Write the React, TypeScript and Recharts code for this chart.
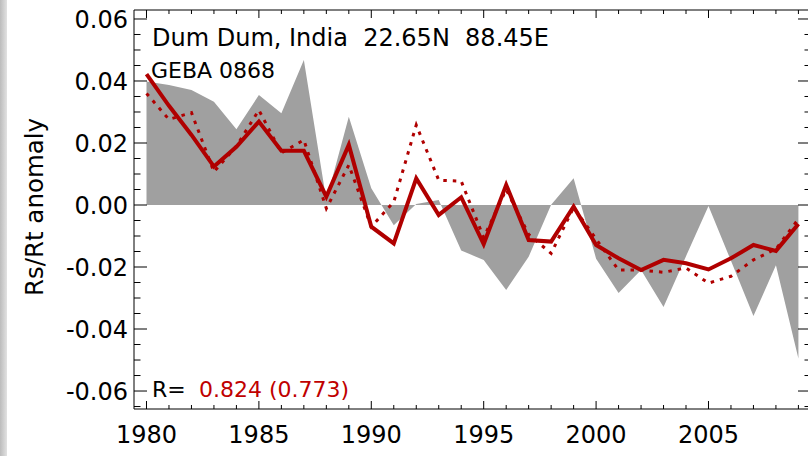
import { ComposedChart, Area, Line, XAxis, YAxis } from "recharts";

const years = [
  1980, 1981, 1982, 1983, 1984, 1985, 1986, 1987, 1988, 1989, 1990, 1991,
  1992, 1993, 1994, 1995, 1996, 1997, 1998, 1999, 2000, 2001, 2002, 2003,
  2004, 2005, 2006, 2007, 2008, 2009,
];

// grey shading (observed anomaly)
const shaded = [
  0.0398, 0.0387, 0.0371, 0.0333, 0.0244, 0.0355, 0.0296, 0.0468, 0.0015,
  0.0285, 0.0054, -0.0065, 0.0003, 0.0016, -0.0147, -0.0177, -0.0274,
  -0.0167, 0.0001, 0.0086, -0.0173, -0.0284, -0.021, -0.0329, -0.0165,
  -0.0003, -0.018, -0.0358, -0.0194, -0.0495,
];

const solid = [
  0.0422, 0.032, 0.0226, 0.0124, 0.0188, 0.0269, 0.0175, 0.0175, 0.0027,
  0.0194, -0.007, -0.0124, 0.0086, -0.0032, 0.0025, -0.0126, 0.0065,
  -0.0113, -0.0118, -0.0005, -0.0129, -0.0172, -0.021, -0.0177, -0.0188,
  -0.0208, -0.0172, -0.0129, -0.0148, -0.0061,
];

const dotted = [
  0.036, 0.0276, 0.0298, 0.0107, 0.019, 0.0306, 0.0168, 0.021, -0.0011,
  0.0129, -0.007, 0.001, 0.0258, 0.008, 0.0077, -0.0105, 0.005, -0.0095,
  -0.0156, -0.0008, -0.011, -0.021, -0.021, -0.0217, -0.0203, -0.0252,
  -0.023, -0.0177, -0.0142, -0.0045,
];

const xLabelYears = [1980, 1985, 1990, 1995, 2000, 2005];
const yTickMilli = [
  -65, -60, -55, -50, -45, -40, -35, -30, -25, -20, -15, -10, -5, 0, 5, 10,
  15, 20, 25, 30, 35, 40, 45, 50, 55, 60,
];
const yTicks = yTickMilli.map((m) => m / 1000);

const title = "Dum Dum, India  22.65N  88.45E";
const subtitle = "GEBA 0868";
const corrLabel = "R=";
const corrValue = "0.824 (0.773)";

const data = years.map((year, i) => ({
  year,
  shaded: shaded[i],
  solid: solid[i],
  dotted: dotted[i],
}));

const X_DOMAIN: [number, number] = [1979.444, 2009.56];
const Y_DOMAIN: [number, number] = [-0.0658, 0.0629];
const FONT = "DejaVu Sans";
const RED = "#b00000";

const isMajorY = (v: number) => Math.round(v * 1000) % 20 === 0;
const isMajorX = (v: number) => v % 5 === 0;

function BottomTick(props: any) {
  const { x, y, payload } = props;
  const major = isMajorX(payload.value);
  return (
    <g>
      <line x1={x} x2={x} y1={y} y2={y - (major ? 8 : 4)} stroke="#000" />
      {xLabelYears.includes(payload.value) && (
        <text x={x} y={y + 34} textAnchor="middle" fontSize={24} fontFamily={FONT} fill="#000">
          {payload.value}
        </text>
      )}
    </g>
  );
}

function TopTick(props: any) {
  const { x, y, payload } = props;
  const major = isMajorX(payload.value);
  return <line x1={x} x2={x} y1={y} y2={y + (major ? 8 : 4)} stroke="#000" />;
}

function LeftTick(props: any) {
  const { x, y, payload } = props;
  const major = isMajorY(payload.value);
  return (
    <g>
      <line x1={x} x2={x + (major ? 13 : 6.5)} y1={y} y2={y} stroke="#000" />
      {major && (
        <text x={x - 6} y={y + 8.7} textAnchor="end" fontSize={24} fontFamily={FONT} fill="#000">
          {(Math.round(payload.value * 100) / 100).toFixed(2).replace("-0.00", "0.00")}
        </text>
      )}
    </g>
  );
}

function RightTick(props: any) {
  const { x, y, payload } = props;
  const major = isMajorY(payload.value);
  return <line x1={x} x2={x - (major ? 13 : 6.5)} y1={y} y2={y} stroke="#000" />;
}

export default function App() {
  return (
    <div
      style={{
        position: "fixed",
        left: 0,
        top: 0,
        width: 808,
        height: 456,
        overflow: "hidden",
        background: "#fff",
      }}
    >
      <div
        style={{
          position: "absolute",
          left: 0,
          top: 0,
          width: 7,
          height: 456,
          background: "linear-gradient(to right, #bcbcbc, #e2e2e2)",
        }}
      />
      <div style={{ position: "absolute", left: 0, top: 0 }}>
        <ComposedChart
          width={813}
          height={456}
          data={data}
          margin={{ top: 9, right: 1, bottom: 0, left: 0 }}
        >
          <XAxis
            xAxisId="b"
            dataKey="year"
            type="number"
            orientation="bottom"
            domain={X_DOMAIN}
            allowDataOverflow
            ticks={years}
            interval={0}
            height={47}
            tickSize={0}
            tickMargin={0}
            tickLine={false}
            axisLine={{ stroke: "#000" }}
            tick={BottomTick}
          />
          <XAxis
            xAxisId="t"
            dataKey="year"
            type="number"
            orientation="top"
            domain={X_DOMAIN}
            allowDataOverflow
            ticks={years}
            interval={0}
            height={1}
            tickSize={0}
            tickMargin={0}
            tickLine={false}
            axisLine={{ stroke: "#000" }}
            tick={TopTick}
          />
          <YAxis
            yAxisId="l"
            type="number"
            orientation="left"
            domain={Y_DOMAIN}
            allowDataOverflow
            ticks={yTicks}
            interval={0}
            width={134}
            tickSize={0}
            tickMargin={0}
            tickLine={false}
            axisLine={{ stroke: "#000" }}
            tick={LeftTick}
          />
          <YAxis
            yAxisId="r"
            type="number"
            orientation="right"
            domain={Y_DOMAIN}
            allowDataOverflow
            ticks={yTicks}
            interval={0}
            width={1}
            tickSize={0}
            tickMargin={0}
            tickLine={false}
            axisLine={{ stroke: "#000" }}
            tick={RightTick}
          />
          <Area
            xAxisId="b"
            yAxisId="l"
            type="linear"
            dataKey="shaded"
            baseValue={0}
            fill="#a0a0a0"
            fillOpacity={1}
            stroke="none"
            isAnimationActive={false}
          />
          <Line
            xAxisId="b"
            yAxisId="l"
            type="linear"
            dataKey="dotted"
            stroke={RED}
            strokeWidth={3}
            strokeDasharray="3.5 6"
            dot={false}
            isAnimationActive={false}
          />
          <Line
            xAxisId="b"
            yAxisId="l"
            type="linear"
            dataKey="solid"
            stroke={RED}
            strokeWidth={4}
            strokeLinejoin="miter"
            dot={false}
            isAnimationActive={false}
          />
          {/* invisible copy so the mirrored top/right axes have a series */}
          <Line
            xAxisId="t"
            yAxisId="r"
            type="linear"
            dataKey="solid"
            stroke="none"
            dot={false}
            activeDot={false}
            isAnimationActive={false}
          />
        </ComposedChart>
      </div>
      <svg
        width={808}
        height={456}
        style={{ position: "absolute", left: 0, top: 0, pointerEvents: "none" }}
      >
        <text x={152} y={45.5} fontSize={24} fontFamily={FONT} fill="#000" style={{ whiteSpace: "pre" }}>
          {title}
        </text>
        <text x={151} y={77.5} fontSize={22} fontFamily={FONT} fill="#000">
          {subtitle}
        </text>
        <text x={152} y={397} fontSize={22} fontFamily={FONT} fill="#000">
          {corrLabel}
        </text>
        <text x={199} y={397} fontSize={22} fontFamily={FONT} fill="#c00000" style={{ whiteSpace: "pre" }}>
          {corrValue}
        </text>
        <text
          transform="translate(43, 207) rotate(-90)"
          textAnchor="middle"
          fontSize={24.5}
          fontFamily={FONT}
          fill="#000"
        >
          Rs/Rt anomaly
        </text>
      </svg>
    </div>
  );
}
